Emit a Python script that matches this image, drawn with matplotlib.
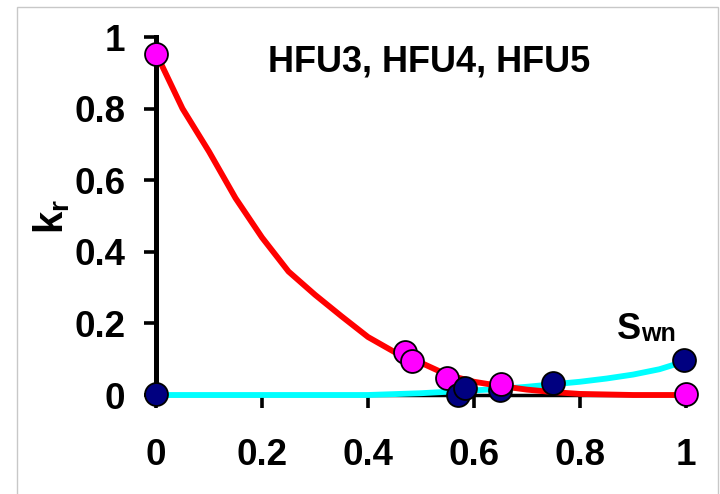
import matplotlib
matplotlib.use('Agg')
import matplotlib.pyplot as plt
from matplotlib.patches import Rectangle

plt.rcParams['font.family'] = ['Liberation Sans', 'DejaVu Sans']
plt.rcParams['font.weight'] = 'bold'
plt.rcParams['mathtext.fontset'] = 'custom'
plt.rcParams['mathtext.rm'] = 'Liberation Sans:bold'
plt.rcParams['mathtext.bf'] = 'Liberation Sans:bold'

# red curve (kr, decreasing)
red_x = [0, 0.05, 0.10, 0.15, 0.20, 0.25, 0.30, 0.35, 0.40, 0.45, 0.50,
         0.55, 0.60, 0.65, 0.70, 0.75, 0.80, 0.90, 1.0]
red_y = [0.955, 0.80, 0.68, 0.55, 0.44, 0.345, 0.28, 0.22, 0.162, 0.12, 0.09,
         0.056, 0.037, 0.025, 0.015, 0.008, 0.003, 0.0, 0.0]

# cyan curve (kr, increasing)
cyan_x = [0, 0.4, 0.5, 0.55, 0.6, 0.65, 0.7, 0.75, 0.8, 0.85, 0.9, 0.95, 1.0]
cyan_y = [0, 0, 0.005, 0.009, 0.013, 0.017, 0.023, 0.03, 0.037, 0.046, 0.057, 0.072, 0.095]

# measured points
mag_x = [0, 0.47, 0.483, 0.549, 0.651, 1.0]
mag_y = [0.953, 0.12, 0.095, 0.047, 0.031, 0.003]
mag_z = [6, 6, 6, 4, 8, 6]

navy_x = [0, 0.57, 0.583, 0.649, 0.749, 0.996]
navy_y = [0.003, 0.0, 0.02, 0.014, 0.034, 0.098]
navy_z = [5, 5, 5, 5, 5, 5]

ticks = [0, 0.2, 0.4, 0.6, 0.8, 1]
tick_labels = ['0', '0.2', '0.4', '0.6', '0.8', '1']

fig = plt.figure(figsize=(7.2, 4.94), dpi=100)
ax = fig.add_axes([156 / 720, 1 - 395 / 494, 530 / 720, 358 / 494])

# light grey frame around the picture
fig.patches.append(Rectangle((17 / 720, -0.05), 701 / 720, 1 - 7 / 494 + 0.05,
                             transform=fig.transFigure, fill=False,
                             edgecolor='#c8c8c8', lw=1))

ax.plot(cyan_x, cyan_y, color='#00ffff', lw=4.2, zorder=3, clip_on=False,
        solid_capstyle='butt')
ax.plot(red_x, red_y, color='#ff0000', lw=4.2, zorder=3.5, clip_on=False,
        solid_capstyle='butt')

for x, y, z in zip(mag_x, mag_y, mag_z):
    ax.plot(x, y, 'o', ms=16.5, mfc='#ff00ff', mec='black', mew=1.3,
            zorder=z, clip_on=False)
for x, y, z in zip(navy_x, navy_y, navy_z):
    ax.plot(x, y, 'o', ms=16.5, mfc='#000080', mec='black', mew=1.3,
            zorder=z, clip_on=False)

ax.set_xlim(0, 1)
ax.set_ylim(0, 1)
ax.set_xticks(ticks)
ax.set_xticklabels(tick_labels)
ax.set_yticks(ticks)
ax.set_yticklabels(tick_labels)

for s in ['top', 'right']:
    ax.spines[s].set_visible(False)
ax.spines['left'].set_linewidth(3.6)
ax.spines['bottom'].set_linewidth(2.5)
ax.spines['left'].set_zorder(2)
ax.spines['bottom'].set_zorder(2)

ax.tick_params(axis='both', direction='out', length=9, width=2.6,
               labelsize=26.5)
ax.tick_params(axis='x', pad=22)
ax.tick_params(axis='y', pad=13)
for lab in ax.get_xticklabels() + ax.get_yticklabels():
    lab.set_fontweight('bold')

ax.set_ylabel(r'$\mathbf{k}_\mathbf{r}$', fontsize=29, rotation=90)
ax.yaxis.set_label_coords(-0.158, 0.5)

ax.text(0.515, 0.905, 'HFU3, HFU4, HFU5', fontsize=26, fontweight='bold',
        ha='center', va='baseline')
ax.text(0.87, 0.156, 'S', fontsize=26, fontweight='bold',
        ha='left', va='baseline')
ax.text(0.916, 0.15, 'wn', fontsize=18, fontweight='bold',
        ha='left', va='baseline')

fig.savefig('out.png', dpi=100)
